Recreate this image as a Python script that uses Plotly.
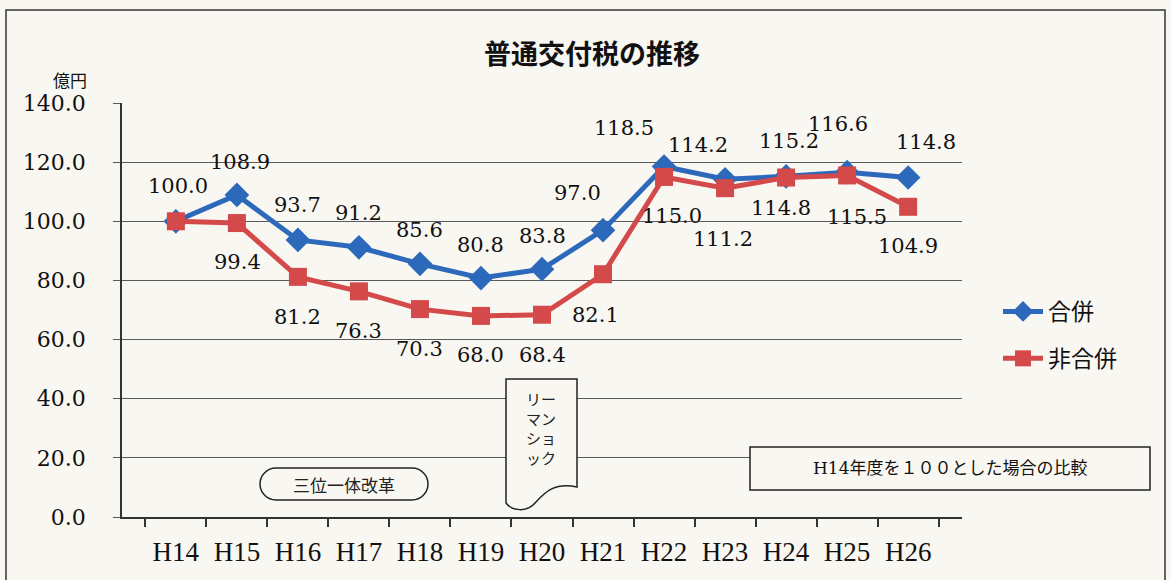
import plotly.graph_objects as go

# ---- data ----
years = ["H14", "H15", "H16", "H17", "H18", "H19", "H20", "H21", "H22", "H23", "H24", "H25", "H26"]
merged = [100.0, 108.9, 93.7, 91.2, 85.6, 80.8, 83.8, 97.0, 118.5, 114.2, 115.2, 116.6, 114.8]
non_merged = [100.0, 99.4, 81.2, 76.3, 70.3, 68.0, 68.4, 82.1, 115.0, 111.2, 114.8, 115.5, 104.9]
y_ticks = [0, 20, 40, 60, 80, 100, 120, 140]
y_tick_labels = ["0.0", "20.0", "40.0", "60.0", "80.0", "100.0", "120.0", "140.0"]

# ---- label placement styles (pixel shifts) ----
merged_dx = [2, 3, 0, 0, 0, 0, 0, -26, -40, -27, 3, -9, 18]
merged_dy = [35, 33, 35, 34, 34, 33, 33, 37, 39, 34, 35, 48, 36]
non_dx = [0, 1, 0, 0, 0, 0, 0, -8, 8, -2, -5, 10, 0]
non_dy = [-40, -39, -40, -40, -40, -39, -40, -41, -39, -51, -30, -42, -39]
show_non_label = [False] + [True] * 12

W, H = 1171, 580
L, R, T, B = 122, 962, 103, 517

def px(x):
    return (x - L) / (R - L)

def py(y):
    return (B - y) / (B - T)

BLUE = "#2d69bb"
RED = "#d4494a"
BG = "#f9f7f1"
GRID = "#5a5a5a"
NUM_FONT = "DejaVu Serif"
JP_FONT = "Noto Sans CJK JP"

fig = go.Figure()
fig.add_trace(go.Scatter(
    x=years, y=merged, name="合併", mode="lines+markers",
    line=dict(color=BLUE, width=5),
    marker=dict(symbol="diamond", size=19, color=BLUE),
    legendgroup="a",
))
fig.add_trace(go.Scatter(
    x=years, y=non_merged, name="非合併", mode="lines+markers",
    line=dict(color=RED, width=5),
    marker=dict(symbol="square", size=18, color=RED),
    legendgroup="b",
))

annotations = []
for i, (yr, v) in enumerate(zip(years, merged)):
    annotations.append(dict(x=yr, y=v, xref="x", yref="y", text=f"{v:.1f}",
                            showarrow=False, xshift=merged_dx[i], yshift=merged_dy[i],
                            xanchor="center", yanchor="middle",
                            font=dict(family=NUM_FONT, size=21, color="#111")))
for i, (yr, v) in enumerate(zip(years, non_merged)):
    if not show_non_label[i]:
        continue
    annotations.append(dict(x=yr, y=v, xref="x", yref="y", text=f"{v:.1f}",
                            showarrow=False, xshift=non_dx[i], yshift=non_dy[i],
                            xanchor="center", yanchor="middle",
                            font=dict(family=NUM_FONT, size=21, color="#111")))

def note(xp, yp, text, font):
    return dict(x=px(xp), y=py(yp), xref="paper", yref="paper", text=text,
                showarrow=False, xanchor="center", yanchor="middle", font=font)

annotations.append(note(592, 53, "<b>普通交付税の推移</b>",
                        dict(family=JP_FONT, size=27, color="#111")))
annotations.append(note(70, 80, "億円", dict(family=JP_FONT, size=17, color="#111")))
annotations.append(note(344, 484, "三位一体改革", dict(family=JP_FONT, size=17, color="#222")))
annotations.append(note(541, 428, "リー<br>マン<br>ショ<br>ック",
                        dict(family=JP_FONT, size=15, color="#222")))
annotations.append(note(950, 468, "H14年度を１００とした場合の比較",
                        dict(family=NUM_FONT + ", " + JP_FONT, size=17, color="#111")))

shapes = []
# outer frame
shapes.append(dict(type="rect", xref="paper", yref="paper",
                   x0=px(6), x1=px(1165), y0=py(600), y1=py(10),
                   line=dict(color="#333", width=1.5), fillcolor="rgba(0,0,0,0)", layer="below"))
# rounded box for 三位一体改革
x0, x1, y0, y1, r = 260, 428, 468, 500, 16
k = 0.55 * r
path = (f"M {px(x0 + r)},{py(y0)} L {px(x1 - r)},{py(y0)} "
        f"C {px(x1 - r + k)},{py(y0)} {px(x1)},{py(y0 + r - k)} {px(x1)},{py(y0 + r)} "
        f"C {px(x1)},{py(y1 - r + k)} {px(x1 - r + k)},{py(y1)} {px(x1 - r)},{py(y1)} "
        f"L {px(x0 + r)},{py(y1)} "
        f"C {px(x0 + r - k)},{py(y1)} {px(x0)},{py(y1 - r + k)} {px(x0)},{py(y1 - r)} "
        f"C {px(x0)},{py(y0 + r - k)} {px(x0 + r - k)},{py(y0)} {px(x0 + r)},{py(y0)} Z")
shapes.append(dict(type="path", xref="paper", yref="paper", path=path,
                   line=dict(color="#222", width=1.5), fillcolor=BG, layer="above"))
# document shape for Lehman shock
dpath = (f"M {px(506)},{py(379)} L {px(577)},{py(379)} L {px(577)},{py(487)} "
         f"C {px(555)},{py(482)} {px(545)},{py(492)} {px(536)},{py(502)} "
         f"C {px(527)},{py(513)} {px(512)},{py(511)} {px(506)},{py(503)} Z")
shapes.append(dict(type="path", xref="paper", yref="paper", path=dpath,
                   line=dict(color="#222", width=1.5), fillcolor=BG, layer="above"))
# note box
shapes.append(dict(type="rect", xref="paper", yref="paper",
                   x0=px(750), x1=px(1150), y0=py(490), y1=py(447),
                   line=dict(color="#222", width=1.5), fillcolor=BG, layer="above"))

fig.update_layout(
    width=W, height=H,
    margin=dict(l=L, r=W - R, t=T, b=H - B, pad=0),
    paper_bgcolor=BG, plot_bgcolor=BG,
    showlegend=True,
    legend=dict(x=px(998), y=py(290), xanchor="left", yanchor="top",
                font=dict(family=JP_FONT, size=23, color="#111"),
                bgcolor="rgba(0,0,0,0)", tracegroupgap=14, itemwidth=40),
    annotations=annotations,
    shapes=shapes,
)
fig.update_xaxes(
    type="category", showline=True, linecolor="#333", linewidth=1.5,
    ticks="outside", tickson="boundaries", ticklen=8, tickcolor="#333", tickwidth=1.5,
    showgrid=False, ticklabelstandoff=10,
    tickfont=dict(family="Liberation Serif", size=27, color="#111"),
)
fig.update_yaxes(
    range=[0, 140], tickvals=y_ticks, ticktext=y_tick_labels,
    showline=True, linecolor="#333", linewidth=1.5,
    ticks="outside", ticklen=7, tickcolor=GRID, tickwidth=1.3,
    showgrid=True, gridcolor=GRID, gridwidth=1.3, zeroline=False,
    ticklabelstandoff=23,
    tickfont=dict(family=NUM_FONT, size=22, color="#111"),
)

fig.write_html("out.html", config={"displayModeBar": False},
               post_script="document.body.style.margin='0';")
